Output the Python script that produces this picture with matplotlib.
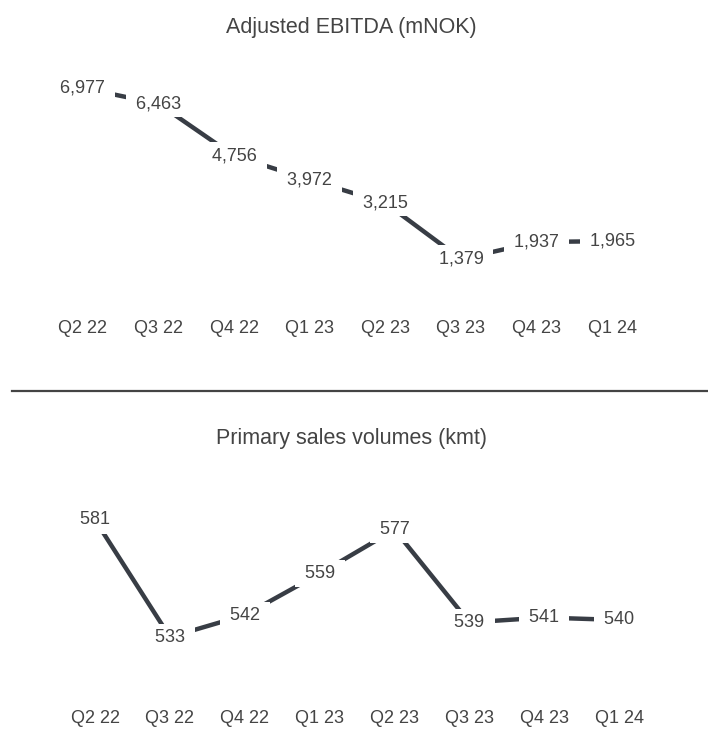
import matplotlib
matplotlib.use("Agg")
from matplotlib import pyplot as plt
from matplotlib.lines import Line2D

plt.rcParams['font.family'] = ['Liberation Sans', 'DejaVu Sans']

quarters = ["Q2 22", "Q3 22", "Q4 22", "Q1 23", "Q2 23", "Q3 23", "Q4 23", "Q1 24"]
ebitda = [6977, 6463, 4756, 3972, 3215, 1379, 1937, 1965]
volumes = [581, 533, 542, 559, 577, 539, 541, 540]

LINE_COLOR = "#383d45"
TEXT_COLOR = "#444444"

fig = plt.figure(figsize=(7.08, 7.53), dpi=100)


def draw_panel(ax, values, ylim, pad):
    x = list(range(len(values)))
    ax.plot(x, values, color=LINE_COLOR, linewidth=3.2, solid_capstyle="butt", zorder=1)
    for xi, v in zip(x, values):
        # a space each side widens the white box so the line stops short of the label
        ax.text(xi, v, " {:,} ".format(v), ha="center", va="center", fontsize=13,
                color=TEXT_COLOR, zorder=3,
                bbox=dict(boxstyle="square,pad=0.28", fc="white", ec="none"))
    ax.set_xlim(-0.5, len(values) - 0.5)
    ax.set_ylim(*ylim)
    ax.set_xticks(x)
    ax.set_xticklabels(quarters, fontsize=13, color=TEXT_COLOR)
    ax.tick_params(axis="x", length=0, pad=pad)
    ax.set_yticks([])
    for s in ax.spines.values():
        s.set_visible(False)


ax1 = fig.add_axes([0.0636, 0.5883, 0.8545, 0.332])
draw_panel(ax1, ebitda, (-290, 7894), 7)

ax2 = fig.add_axes([0.0814, 0.0704, 0.846, 0.2789])
draw_panel(ax2, volumes, (507.2, 593.3), 7.5)

fig.text(351 / 708, 1 - 28 / 753, "Adjusted EBITDA (mNOK)", ha="center", va="center",
         fontsize=15.5, color=TEXT_COLOR)
fig.text(351 / 708, 1 - 438 / 753, "Primary sales volumes (kmt)", ha="center", va="center",
         fontsize=15.5, color=TEXT_COLOR)

# divider between the two panels
fig.add_artist(Line2D([12 / 708, 1.0], [1 - 391 / 753] * 2, color="#444444", linewidth=1.6))

fig.savefig("out.png", dpi=100)
